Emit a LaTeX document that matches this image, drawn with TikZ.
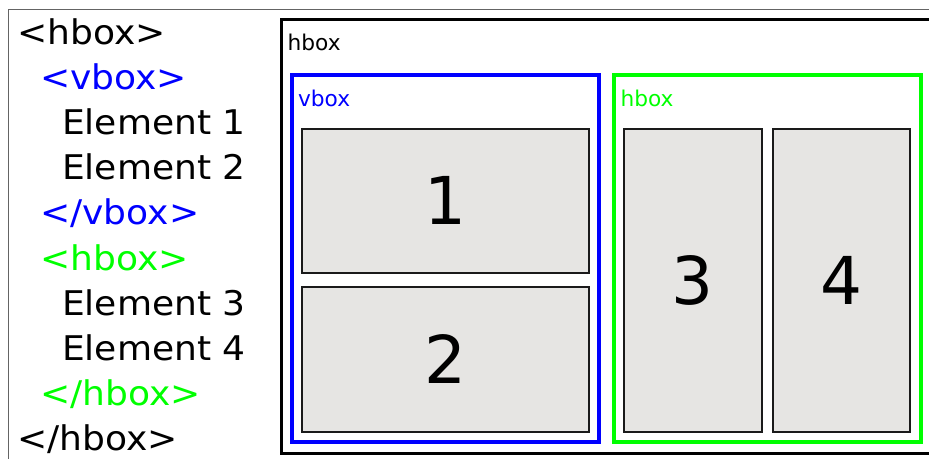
\documentclass[tikz,border=0pt]{standalone}
\usepackage{fontspec}
\setmainfont{DejaVu Sans}
\newfontfamily\codefont[FakeStretch=1.06]{DejaVu Sans}
\definecolor{pureblue}{RGB}{0,0,255}
\definecolor{puregreen}{RGB}{0,255,0}
\definecolor{boxfill}{RGB}{230,229,227}
\definecolor{boxedge}{RGB}{26,26,26}
\definecolor{framegray}{RGB}{100,100,100}
\tikzset{
  codeline/.style={anchor=base west, inner sep=0pt, font=\codefont\fontsize{34}{40}\selectfont},
  boxlabel/.style={anchor=base west, inner sep=0pt, font=\fontsize{21.7}{26}\selectfont},
  element/.style={draw=boxedge, line width=2pt, fill=boxfill},
  numlabel/.style={inner sep=0pt, font=\fontsize{66}{70}\selectfont},
}
\begin{document}
\begin{tikzpicture}[x=1pt,y=-1pt]
\useasboundingbox (0,0) rectangle (929,458);
\clip (0,0) rectangle (929,458);
% outer thin frame
\draw[framegray, line width=1.2pt] (8.5,470) -- (8.5,9.5) -- (940,9.5);
% code lines
\node[codeline] (l1) at (17,44.5) {<hbox>};
\node[codeline, text=pureblue] (l2) at (40,89.6) {<vbox>};
\node[codeline] (l3) at (62,134.7) {Element 1};
\node[codeline] (l4) at (62,179.8) {Element 2};
\node[codeline, text=pureblue] (l5) at (40,224.9) {</vbox>};
\node[codeline, text=puregreen] (l6) at (40,270) {<hbox>};
\node[codeline] (l7) at (62,315.1) {Element 3};
\node[codeline] (l8) at (62,360.2) {Element 4};
\node[codeline, text=puregreen] (l9) at (40,405.3) {</hbox>};
\node[codeline] (l10) at (17,450.4) {</hbox>};
% outer hbox
\draw[black, line width=3pt] (281,19.7) rectangle (940,453);
\node[boxlabel] (lh) at (287.5,50) {hbox};
% vbox
\draw[pureblue, line width=4pt] (291.7,74.5) rectangle (599,441.7);
\node[boxlabel, text=pureblue] (lv) at (297.8,106) {vbox};
% inner hbox
\draw[puregreen, line width=4pt] (614,74.5) rectangle (921,441.8);
\node[boxlabel, text=puregreen] (lg) at (620.3,106) {hbox};
% elements
\draw[element] (302,128.5) rectangle (588.7,273.3);
\draw[element] (302,286.7) rectangle (588.7,432);
\draw[element] (624,129.3) rectangle (761.7,432);
\draw[element] (772.7,128.7) rectangle (909.7,432);
\node[numlabel] (n1) at (445.3,200.9) {1};
\node[numlabel] (n2) at (445.3,359.3) {2};
\node[numlabel] (n3) at (692.8,280.6) {3};
\node[numlabel] (n4) at (841.2,280.3) {4};
\end{tikzpicture}
\end{document}
